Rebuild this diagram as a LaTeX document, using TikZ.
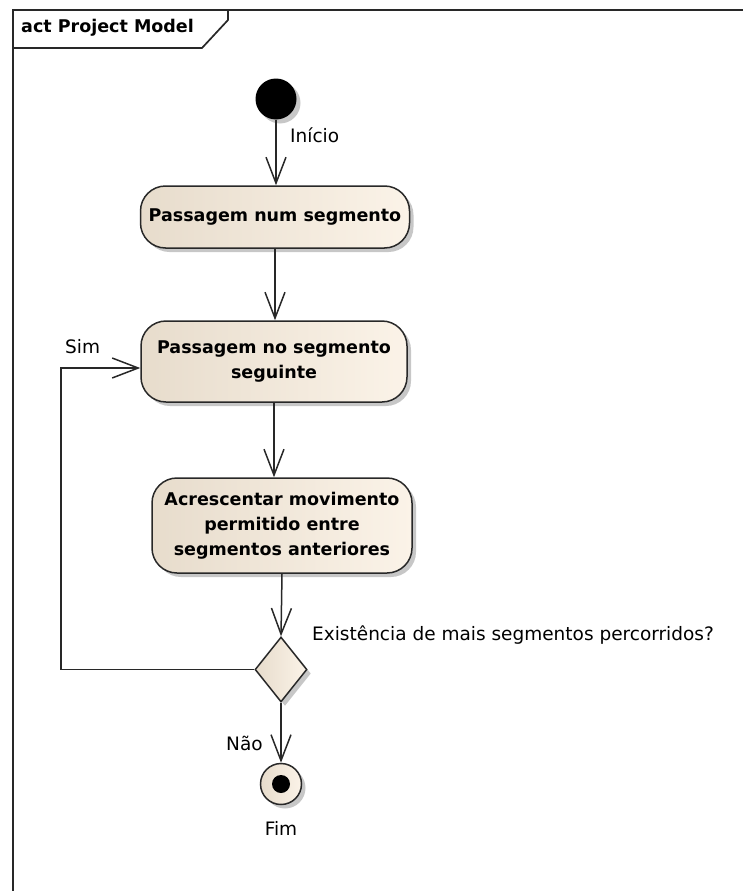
\documentclass[tikz,border=0pt]{standalone}
\usepackage{fontspec}
\setmainfont{DejaVu Sans}
\usetikzlibrary{arrows.meta,shapes.geometric,shadows,calc}
\definecolor{boxL}{RGB}{231,220,204}
\definecolor{boxR}{RGB}{251,243,232}
\definecolor{edge}{RGB}{40,40,40}
\begin{document}
\begin{tikzpicture}[x=1pt,y=-1pt,
  softshadow/.style={drop shadow={shadow xshift=4pt,shadow yshift=-4pt,fill=black,opacity=0.22}},
  action/.style={rectangle, rounded corners=25pt, draw=edge, line width=1.5pt,
    left color=boxL, right color=boxR, align=center, inner sep=0pt,
    font=\fontsize{17.5}{25}\selectfont\bfseries, softshadow},
  decision/.style={diamond, draw=edge, line width=1.5pt, left color=boxL, right color=boxR,
    inner sep=0pt, minimum width=52pt, minimum height=65pt, softshadow},
  flow/.style={draw=edge, line width=1.5pt, -{Straight Barb[length=26pt,width=20pt,line width=1.5pt]}},
  lbl/.style={font=\fontsize{18.5}{22}\selectfont, inner sep=0pt},
  frameline/.style={draw=edge, line width=1.7pt}]
\useasboundingbox (0,0) rectangle (742,891);

% diagram frame and its name tab
\draw[frameline] (13,900) -- (13,10) -- (760,10);
\draw[frameline] (13,48) -- (202,48) -- (228,20) -- (228,10);
\node[anchor=west, inner sep=0pt, font=\fontsize{17.5}{21}\selectfont\bfseries] (title) at (21,28) {act Project Model};

% nodes
\node[circle, fill=black, minimum size=41pt, inner sep=0pt, softshadow] (start) at (276,99) {};
\node[action, minimum width=269pt, minimum height=62pt] (a1) at (275,217) {Passagem num segmento};
\node[action, minimum width=266pt, minimum height=81pt] (a2) at (274,361.5) {Passagem no segmento\\seguinte};
\node[action, minimum width=260pt, minimum height=95pt] (a3) at (282,525.5) {Acrescentar movimento\\permitido entre\\segmentos anteriores};
\node[decision] (dec) at (281,669.5) {};
\node[circle, draw=edge, line width=1.5pt, left color=boxL, right color=boxR,
      minimum size=41pt, inner sep=0pt, softshadow] (end) at (281,784) {};
\fill[black] (end.center) circle (9pt);

% connectors
\draw[flow] (start.south) -- (start.south |- a1.north);
\draw[flow] (a1.south) -- (a1.south |- a2.north);
\draw[flow] (a2.south) -- (a2.south |- a3.north);
\draw[flow] (a3.south) -- (dec.north);
\coordinate (loopin) at ($(a2.west)+(0,6.5)$);
\draw[flow] (dec.west) -- (61,669.5) -- (61,368) -- (loopin);
\draw[flow] (dec.south) -- (end.north);

% labels
\node[lbl, anchor=west] (lstart) at (290,135) {Início};
\node[lbl, anchor=west] (lsim) at (65,347) {Sim};
\node[lbl, anchor=west] (lq) at (312,635) {Existência de mais segmentos percorridos?};
\node[lbl, anchor=west] (lnao) at (226,743) {Não};
\node[lbl] (lfim) at (281,828) {Fim};
\end{tikzpicture}
\end{document}
